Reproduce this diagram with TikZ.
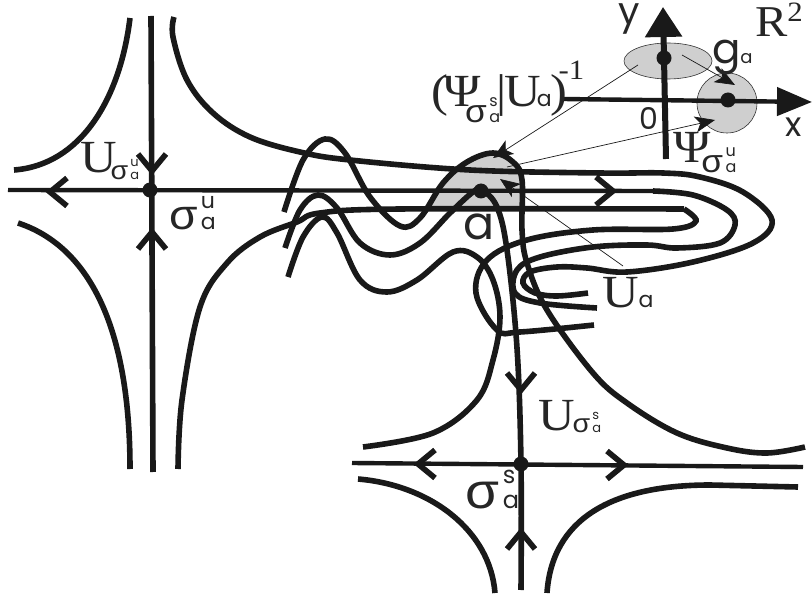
\documentclass[tikz,border=0pt]{standalone}
\usepackage{fontspec}
\usetikzlibrary{arrows.meta}
\setmainfont[FakeStretch=1.1]{Liberation Serif}
\newfontfamily\geofont{Poppins}
\newfontfamily\sgfont[FakeStretch=1.1]{Liberation Sans}
% sigma with its stacked indices: sizes, upper index
\newcommand{\sgm}[3]{{\fontsize{#1}{#1}\selectfont\sgfont σ\kern.08em\rlap{\raisebox{.5em}{\fontsize{#2}{#2}\selectfont\geofont #3}}{\fontsize{#2}{#2}\selectfont\geofont a}}}
\newcommand{\ga}[1]{{\fontsize{#1}{#1}\selectfont\geofont a}}
\tikzset{
  curve/.style={line width=5.6pt,draw=black!90},
  axis/.style={line width=4.4pt,draw=black!90},
  thin line/.style={line width=.7pt,draw=black!90,-{Stealth[length=20pt,width=16pt,inset=5pt]}},
  spot/.style={circle,fill=black!90,inner sep=0pt,minimum size=#1},
  disc/.style={draw=black!80,line width=.6pt,fill=gray!38},
  lbl/.style={anchor=base west,inner sep=0pt,outer sep=0pt,text=black!85,font=\fontsize{46}{46}\selectfont}
}
\begin{document}
\begin{tikzpicture}[x=1pt,y=-1pt]
\useasboundingbox (0,0) rectangle (812,596);
% region round a
\begin{scope}
\clip (410,100) rectangle (540,209);
\fill[gray!38] plot[smooth,tension=.6] coordinates {(284,212) (303,160) (325,139) (345,153) (370,197) (400,226) (420,218) (443,183) (467,162) (493,153) (513,162) (522,180) (522,230) (527,263) (547,310) (593,373) (627,403) (677,433) (727,448) (767,453) (805,447)};
\end{scope}
% discs in the plane
\draw[disc] (668,61) ellipse (44pt and 18pt);
\draw[disc] (727,103) circle (30pt);
% saddle one
\draw[axis] (8,190) -- (653,191);
\draw[curve] (151,16) -- (153,472);
\draw[curve] (130,18) .. controls (120,100) and (80,165) .. (14,170);
\draw[curve] (18,223) .. controls (85,245) and (130,320) .. (130,469);
% saddle two
\draw[axis] (352,463) -- (803,467);
\draw[curve] (358,479) .. controls (430,485) and (490,530) .. (495,593);
\draw[curve] (547,593) .. controls (552,520) and (610,485) .. (710,485) -- (798,487);
% upper strand
\draw[curve] plot[smooth,tension=.6] coordinates {(174,17) (173,37) (187,80) (213,113) (250,137) (300,152) (350,160) (470,170) (600,173) (663,173) (700,177) (743,192) (772,220) (753,243) (693,262) (627,272) (587,268) (557,267) (530,272) (523,283) (535,293) (557,296) (588,293)};
% middle strand
\draw[curve] plot[smooth,tension=.6] coordinates {(653,191) (693,195) (727,210) (735,225) (720,243) (677,248) (647,245) (593,247) (540,257) (517,270) (515,293) (540,303) (597,308)};
% lower strand, with the hook
\draw[curve] plot[smooth,tension=.6] coordinates {(178,469) (182,400) (200,307) (227,263) (260,237) (297,222) (320,213) (400,209) (684,209)};
\draw[curve] plot[smooth,tension=.6] coordinates {(684,209) (696,221) (673,229) (593,230) (527,240) (487,260) (476,293) (497,330) (520,332) (594,325)};
% waves
\draw[curve] plot[smooth,tension=.6] coordinates {(284,212) (303,160) (325,139) (345,153) (370,197) (400,226) (420,218) (443,183) (467,162) (493,153) (513,162) (522,180) (522,230) (527,263) (547,310) (593,373) (627,403) (677,433) (727,448) (767,453) (805,447)};
\draw[curve] plot[smooth,tension=.6] coordinates {(285,248) (300,210) (318,195) (337,208) (360,243) (390,255) (420,243) (450,213) (473,192) (482,190) (497,207) (507,250) (517,348) (521,464) (521,590)};
\draw[curve] plot[smooth,tension=.6] coordinates {(288,277) (303,237) (322,217) (337,233) (360,280) (387,292) (417,280) (453,252) (477,257) (493,280) (500,317) (493,360) (477,400) (433,433) (363,447)};
% chevrons on the separatrices
\foreach \tx/\ty/\rot in {152/171/-90,152/232/90,50/192/180,613/191/0,521/390/-90,521/532/90,418/464/180,624/465/0}
  \draw[curve,shift={(\tx,\ty)},rotate=\rot] (-17,-14) -- (0,0) -- (-17,14);
% saddle points
\node[spot=15pt] (su) at (150,190) {};
\node[spot=15pt] (pa) at (481,191) {};
\node[spot=15pt] (ss) at (521,464) {};
\node[spot=15pt] (gy) at (664,58) {};
\node[spot=15pt] (gx) at (728,100) {};
% axes of the plane
\draw[line width=4.4pt,draw=black!90,-{Triangle[length=35pt,width=28pt,inset=0pt]}] (563,99) -- (812,102);
\draw[line width=6pt,draw=black!90,-{Triangle[length=30pt,width=36pt,inset=0pt]}] (666,159) -- (663,7);
% maps
\coordinate (e1) at (638,65);
\coordinate (b1) at (493,158);
\coordinate (e2) at (682,55);
\coordinate (b2) at (735,85);
\coordinate (e3) at (507,167);
\coordinate (b3) at (715,120);
\coordinate (e4) at (623,266);
\coordinate (b4) at (500,179);
\draw[thin line] (e1) -- (b1);
\draw[thin line] (e2) -- (b2);
\draw[thin line] (e3) -- (b3);
\draw[thin line] (e4) -- (b4);
% labels
\node[lbl] (lUu) at (80,173) {U\kern-6pt\raisebox{-7pt}{\sgm{26}{13}{u}}};
\node[lbl] (lsu) at (169,230) {\sgm{42}{22}{u}};
\node[lbl] (lpa) at (463,240) {\ga{46}};
\node[lbl] (lUa) at (602,308) {U\ga{22}};
\node[lbl] (lUs) at (538,430) {U\kern-2pt\raisebox{-2pt}{\sgm{26}{13}{s}}};
\node[lbl] (lss) at (465,508) {\sgm{50}{24}{s}};
\node[lbl] (lin) at (431,107) {(\kern-4ptΨ\kern-16pt\raisebox{-16pt}{\sgm{32}{16}{s}}\kern-4pt|\kern-2ptU\kern-4pt\ga{22}\kern-1pt)\kern-9pt\raisebox{27pt}{\fontsize{28}{28}\selectfont -1}};
\node[lbl] (lPs) at (673,163) {Ψ\kern-9pt\raisebox{-10pt}{\sgm{32}{16}{u}}};
\node[lbl] (lga) at (712,64) {{\geofont\fontsize{42}{42}\selectfont g}\ga{18}};
\node[lbl,font=\fontsize{44}{44}\selectfont] (lR) at (755,37) {R\raisebox{15pt}{\fontsize{28}{28}\selectfont 2}};
\node[lbl,font=\geofont\fontsize{38}{38}\selectfont] (ly) at (618,25) {y};
\node[lbl,font=\geofont\fontsize{34}{34}\selectfont] (lx) at (785,137) {x};
\node[lbl,font=\geofont\fontsize{30}{30}\selectfont] (l0) at (639,130) {0};
\end{tikzpicture}
\end{document}
